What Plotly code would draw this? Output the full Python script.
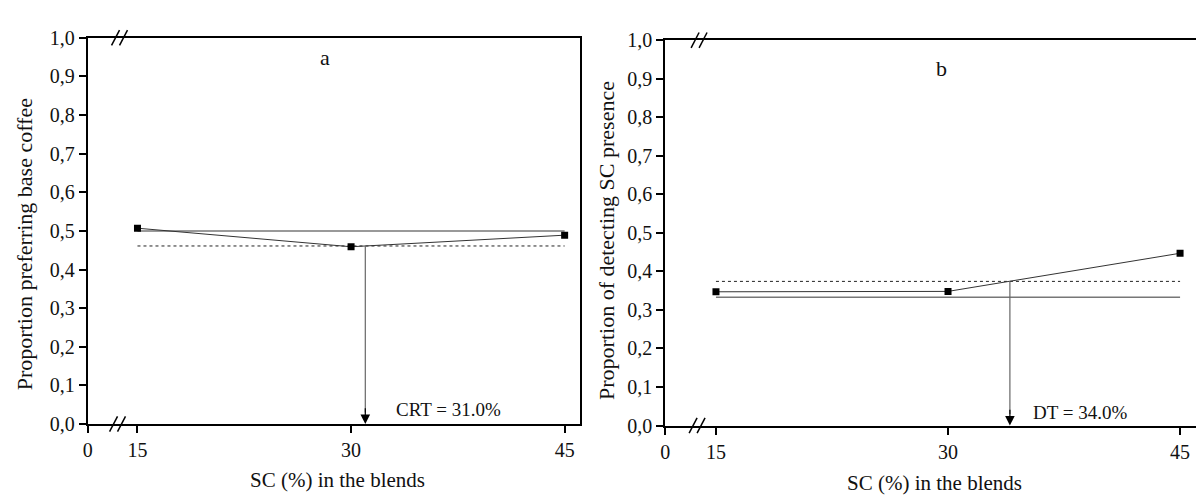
import plotly.graph_objects as go

# ---- data ----
sc = [15, 30, 45]
pref_base = [0.507, 0.459, 0.489]      # panel a
detect_sc = [0.347, 0.348, 0.447]      # panel b
ref_a, crit_a, crt = 0.5, 0.461, 31.0
ref_b, crit_b, dt = 0.333, 0.374, 34.0
yticks = [0, 0.1, 0.2, 0.3, 0.4, 0.5, 0.6, 0.7, 0.8, 0.9, 1.0]
xtick_vals_a = [11.5, 15, 30, 45]
xtick_vals_b = [11.72, 15, 30, 45]
xtick_text = ["0", "15", "30", "45"]

W, H = 1196, 502
FONT = "Liberation Serif, Times New Roman, serif"
TXT = "#111"

def px(xp):
    return xp / W

def py(yp):
    return 1 - yp / H

fig = go.Figure()

# panel a
fig.add_trace(go.Scatter(x=[sc[0], sc[-1]], y=[ref_a, ref_a], mode="lines",
                         line=dict(color="#777", width=1.5), xaxis="x", yaxis="y", showlegend=False))
fig.add_trace(go.Scatter(x=[sc[0], sc[-1]], y=[crit_a, crit_a], mode="lines",
                         line=dict(color="#222", width=1, dash="3px,3px"), xaxis="x", yaxis="y", showlegend=False))
fig.add_trace(go.Scatter(x=sc, y=pref_base, mode="lines+markers",
                         line=dict(color="#333", width=1),
                         marker=dict(symbol="square", size=7, color="black"),
                         xaxis="x", yaxis="y", showlegend=False))
fig.add_trace(go.Scatter(x=[crt, crt], y=[crit_a, 0.03], mode="lines",
                         line=dict(color="#666", width=1.2), xaxis="x", yaxis="y", showlegend=False))

# panel b
fig.add_trace(go.Scatter(x=[sc[0], sc[-1]], y=[ref_b, ref_b], mode="lines",
                         line=dict(color="#777", width=1.5), xaxis="x2", yaxis="y2", showlegend=False))
fig.add_trace(go.Scatter(x=[sc[0], sc[-1]], y=[crit_b, crit_b], mode="lines",
                         line=dict(color="#222", width=1, dash="3px,3px"), xaxis="x2", yaxis="y2", showlegend=False))
fig.add_trace(go.Scatter(x=sc, y=detect_sc, mode="lines+markers",
                         line=dict(color="#333", width=1),
                         marker=dict(symbol="square", size=7, color="black"),
                         xaxis="x2", yaxis="y2", showlegend=False))
fig.add_trace(go.Scatter(x=[dt, dt], y=[crit_b, 0.03], mode="lines",
                         line=dict(color="#666", width=1.2), xaxis="x2", yaxis="y2", showlegend=False))

axis_common = dict(showline=True, linecolor="black", linewidth=2, ticks="outside",
                   ticklen=7, tickwidth=1.5, tickcolor="black", showgrid=False, zeroline=False,
                   tickfont=dict(family=FONT, size=20, color=TXT))

fig.update_layout(
    width=W, height=H, margin=dict(l=0, r=0, t=0, b=0),
    paper_bgcolor="white", plot_bgcolor="white",
    separators=",.",
    xaxis=dict(domain=[px(83), px(577)], range=[11.5, 46.05], tickvals=xtick_vals_a,
               ticktext=xtick_text, mirror=True, anchor="y", **axis_common),
    yaxis=dict(domain=[py(432), py(28)], range=[0, 1], tickvals=yticks, tickformat=".1f",
               mirror=True, anchor="x", **axis_common),
    xaxis2=dict(domain=[px(663), 1.0], range=[11.72, 46.03], tickvals=xtick_vals_b,
                ticktext=xtick_text, mirror=True, anchor="y2", **axis_common),
    yaxis2=dict(domain=[py(433.5), py(30.5)], range=[0, 1], tickvals=yticks, tickformat=".1f",
                mirror=False, anchor="x2", **axis_common),
)

ann = []
# arrowheads
ann.append(dict(x=crt, y=0, ax=crt, ay=0.045, xref="x", yref="y", axref="x", ayref="y",
                showarrow=True, arrowhead=2, arrowsize=1.6, arrowwidth=1.2, arrowcolor="black",
                text="", standoff=0))
ann.append(dict(x=dt, y=0, ax=dt, ay=0.045, xref="x2", yref="y2", axref="x2", ayref="y2",
                showarrow=True, arrowhead=2, arrowsize=1.6, arrowwidth=1.2, arrowcolor="black",
                text="", standoff=0))
# threshold labels
ann.append(dict(x=33.0, y=0.037, xref="x", yref="y", text="CRT = 31.0%", showarrow=False,
                xanchor="left", yanchor="middle", font=dict(family=FONT, size=19, color=TXT)))
ann.append(dict(x=35.35, y=0.033, xref="x2", yref="y2", text="DT = 34.0%", showarrow=False,
                xanchor="left", yanchor="middle", font=dict(family=FONT, size=19, color=TXT)))
# panel letters
ann.append(dict(x=28.2, y=0.95, xref="x", yref="y", text="a", showarrow=False,
                xanchor="center", yanchor="middle", font=dict(family=FONT, size=22, color=TXT)))
ann.append(dict(x=29.55, y=0.927, xref="x2", yref="y2", text="b", showarrow=False,
                xanchor="center", yanchor="middle", font=dict(family=FONT, size=22, color=TXT)))
# axis titles
ann.append(dict(x=px(19), y=py(244), xref="paper", yref="paper", text="Proportion preferring base coffee",
                textangle=-90, showarrow=False, xanchor="center", yanchor="middle",
                font=dict(family=FONT, size=22, color=TXT)))
ann.append(dict(x=px(604), y=py(240), xref="paper", yref="paper", text="Proportion of detecting SC presence",
                textangle=-90, showarrow=False, xanchor="center", yanchor="middle",
                font=dict(family=FONT, size=22, color=TXT)))
ann.append(dict(x=px(334), y=py(491), xref="paper", yref="paper", text="SC (%) in the blends",
                showarrow=False, xanchor="center", yanchor="middle", font=dict(family=FONT, size=21, color=TXT)))
ann.append(dict(x=px(933), y=py(494), xref="paper", yref="paper", text="SC (%) in the blends",
                showarrow=False, xanchor="center", yanchor="middle", font=dict(family=FONT, size=21, color=TXT)))
fig.update_layout(annotations=ann)

# axis break marks "//"
shapes = []
def brk(xc, yc):
    for dx in (-4, 4):
        shapes.append(dict(type="line", xref="paper", yref="paper",
                           x0=px(xc + dx - 4), y0=py(yc + 8), x1=px(xc + dx + 4), y1=py(yc - 8),
                           line=dict(color="black", width=1.5)))
brk(115, 28)
brk(113, 432)
brk(697, 30.5)
brk(695, 433.5)
fig.update_layout(shapes=shapes)

fig.write_html("out.html")
